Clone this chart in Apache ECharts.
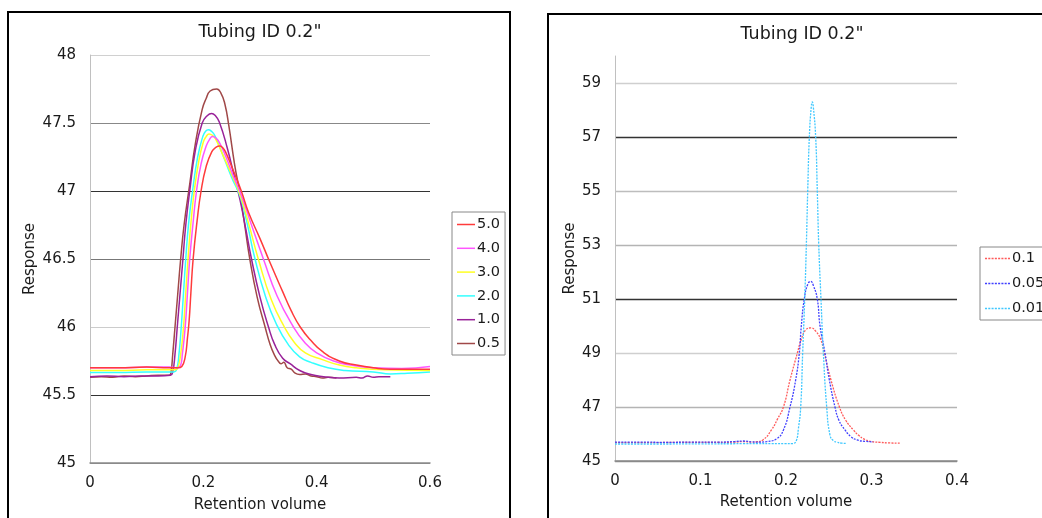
<!DOCTYPE html>
<html>
<head>
<meta charset="utf-8">
<script src="https://cdn.jsdelivr.net/npm/echarts@6/dist/echarts.min.js"></script>
<style>
html,body{margin:0;padding:0;background:#fff;}
#c{width:1042px;height:518px;}
</style>
</head>
<body>
<div id="c"></div>
<script>
// ---------- DATA ----------
const chartTitle = 'Tubing ID 0.2"';
const xName = 'Retention volume';
const yName = 'Response';

// Left chart series names (legend order)
const leftNames = ['5.0', '4.0', '3.0', '2.0', '1.0', '0.5'];
// [retention volume, response]
const left50 = [[0,45.70],[0.05,45.70],[0.10,45.705],[0.14,45.70],[0.155,45.70],[0.162,45.71],[0.168,45.78],[0.172,45.92],[0.175,46.05],[0.178,46.25],[0.182,46.5],[0.189,46.78],[0.196,47.0],[0.205,47.18],[0.215,47.29],[0.222,47.32],[0.229,47.33],[0.235,47.315],[0.24,47.28],[0.252,47.16],[0.267,47.0],[0.28,46.84],[0.30,46.65],[0.318,46.47],[0.34,46.26],[0.355,46.12],[0.371,46.0],[0.39,45.90],[0.41,45.82],[0.44,45.75],[0.47,45.72],[0.50,45.70],[0.53,45.69],[0.56,45.69],[0.60,45.69]];
const left40 = [[0,45.70],[0.05,45.70],[0.10,45.705],[0.14,45.705],[0.155,45.70],[0.160,45.72],[0.163,45.80],[0.168,46.0],[0.172,46.25],[0.176,46.5],[0.182,46.77],[0.188,47.0],[0.196,47.2],[0.205,47.33],[0.211,47.38],[0.2165,47.40],[0.222,47.39],[0.228,47.36],[0.24,47.25],[0.252,47.12],[0.266,46.98],[0.285,46.75],[0.306,46.5],[0.33,46.23],[0.359,46.0],[0.38,45.88],[0.40,45.81],[0.43,45.75],[0.46,45.72],[0.50,45.70],[0.55,45.695],[0.60,45.71]];
const left30 = [[0,45.68],[0.05,45.68],[0.10,45.685],[0.15,45.685],[0.155,45.70],[0.160,45.80],[0.165,46.0],[0.169,46.25],[0.173,46.5],[0.178,46.76],[0.184,47.0],[0.192,47.22],[0.200,47.36],[0.205,47.40],[0.210,47.42],[0.216,47.41],[0.222,47.38],[0.235,47.26],[0.25,47.12],[0.265,46.97],[0.28,46.76],[0.297,46.5],[0.32,46.2],[0.343,46.0],[0.36,45.89],[0.38,45.81],[0.41,45.76],[0.44,45.72],[0.47,45.70],[0.52,45.685],[0.60,45.68]];
const left20 = [[0,45.665],[0.05,45.665],[0.10,45.67],[0.148,45.67],[0.153,45.69],[0.157,45.80],[0.161,46.0],[0.165,46.25],[0.169,46.5],[0.174,46.76],[0.181,47.0],[0.19,47.25],[0.199,47.40],[0.204,47.44],[0.209,47.45],[0.214,47.44],[0.22,47.41],[0.233,47.28],[0.25,47.1],[0.265,46.96],[0.278,46.75],[0.29,46.52],[0.31,46.22],[0.329,46.02],[0.35,45.87],[0.37,45.78],[0.39,45.74],[0.42,45.70],[0.45,45.68],[0.50,45.67],[0.53,45.655],[0.56,45.66],[0.60,45.67]];
const left10 = [[0,45.635],[0.03,45.64],[0.06,45.635],[0.09,45.64],[0.12,45.64],[0.142,45.645],[0.146,45.67],[0.150,45.80],[0.154,46.0],[0.159,46.25],[0.164,46.5],[0.169,46.75],[0.176,47.0],[0.186,47.3],[0.198,47.5],[0.206,47.55],[0.2147,47.57],[0.221,47.555],[0.228,47.51],[0.242,47.32],[0.255,47.1],[0.265,46.93],[0.275,46.72],[0.285,46.5],[0.30,46.22],[0.315,46.0],[0.326,45.87],[0.34,45.77],[0.353,45.73],[0.37,45.68],[0.39,45.65],[0.412,45.635],[0.44,45.625],[0.47,45.63],[0.48,45.625],[0.49,45.64],[0.50,45.63],[0.51,45.635],[0.53,45.635]];
const left05 = [[0,45.63],[0.02,45.635],[0.04,45.63],[0.06,45.64],[0.08,45.635],[0.10,45.64],[0.12,45.645],[0.14,45.645],[0.143,45.67],[0.146,45.80],[0.150,46.0],[0.155,46.25],[0.160,46.5],[0.166,46.75],[0.176,47.05],[0.186,47.35],[0.198,47.6],[0.205,47.68],[0.212,47.735],[0.2235,47.75],[0.231,47.72],[0.238,47.64],[0.245,47.48],[0.255,47.2],[0.265,46.97],[0.273,46.75],[0.282,46.5],[0.295,46.22],[0.309,46.0],[0.318,45.87],[0.326,45.79],[0.332,45.75],[0.337,45.73],[0.342,45.74],[0.348,45.70],[0.355,45.69],[0.362,45.66],[0.37,45.65],[0.38,45.655],[0.39,45.64],[0.40,45.635],[0.41,45.625],[0.42,45.63],[0.435,45.625]];

// Right chart series
const rightNames = ['0.1', '0.05', '0.01'];
const right01 = [[0,45.68],[0.03,45.68],[0.06,45.685],[0.09,45.69],[0.12,45.69],[0.14,45.70],[0.15,45.72],[0.16,45.70],[0.165,45.71],[0.173,45.78],[0.183,46.15],[0.19,46.55],[0.197,47.0],[0.2047,48.0],[0.2133,49.0],[0.2178,49.5],[0.223,49.85],[0.2292,49.93],[0.235,49.8],[0.2406,49.5],[0.2448,49.0],[0.2526,48.0],[0.2625,47.0],[0.27,46.5],[0.2788,46.15],[0.285,45.95],[0.292,45.8],[0.30,45.72],[0.31,45.69],[0.32,45.67],[0.333,45.66]];
const right005 = [[0,45.70],[0.03,45.70],[0.06,45.69],[0.09,45.70],[0.12,45.70],[0.14,45.72],[0.15,45.74],[0.16,45.71],[0.17,45.70],[0.1774,45.72],[0.189,45.82],[0.197,46.15],[0.2047,47.0],[0.2113,48.0],[0.2156,49.0],[0.2179,50.0],[0.2214,51.0],[0.2255,51.55],[0.2289,51.65],[0.232,51.5],[0.2366,51.0],[0.2398,50.0],[0.2456,49.0],[0.2507,48.0],[0.2573,47.0],[0.262,46.5],[0.269,46.15],[0.276,45.9],[0.283,45.78],[0.292,45.73],[0.302,45.71]];
const right001 = [[0,45.63],[0.05,45.63],[0.10,45.635],[0.15,45.64],[0.20,45.64],[0.208,45.645],[0.212,45.75],[0.2145,46.2],[0.2172,47.0],[0.2195,49.0],[0.2219,51.0],[0.2238,53.0],[0.2254,55.0],[0.2273,57.0],[0.2295,58.1],[0.2308,58.3],[0.232,58.1],[0.2347,57.0],[0.2366,55.0],[0.2383,53.0],[0.2409,51.0],[0.2437,49.0],[0.2476,47.0],[0.2515,45.95],[0.2555,45.75],[0.2593,45.70],[0.265,45.66],[0.271,45.65]];

// Axis ranges / ticks
const leftX = {min: 0, max: 0.6, interval: 0.2};
const leftY = {min: 45, max: 48, interval: 0.5};
const rightX = {min: 0, max: 0.4, interval: 0.1};
const rightY = {min: 45, max: 60, interval: 1};

// ---------- CHART ----------
const FONT = '"DejaVu Sans", Verdana, sans-serif';
const TXT = '#1a1a1a';
const leftColors = ['#ff3b3b', '#ff55ff', '#ffff22', '#33ffff', '#992299', '#a04848'];
const rightColors = ['#ff5a5a', '#4040ff', '#40c8ff'];

const leftData = [left50, left40, left30, left20, left10, left05];
const rightData = [right01, right005, right001];

// legend icons: solid line / dotted line drawn as thin path shapes
const solidIcon = 'path://M0,0h18v1.5h-18z';
function dottedIcon(w) {
  let p = 'path://';
  for (let x = 0; x + 2 <= w; x += 3.2) p += 'M' + x.toFixed(1) + ',0h2v1.3h-2z';
  return p;
}
const dotIcon = dottedIcon(25);

const chart = echarts.init(document.getElementById('c'), null, {renderer: 'canvas'});

function axisText(extra) {
  return Object.assign({color: TXT, fontFamily: FONT, fontSize: 15}, extra || {});
}

const option = {
  animation: false,
  backgroundColor: '#fff',
  textStyle: {fontFamily: FONT},
  graphic: [
    {type: 'rect', z: -10, shape: {x: 8, y: 12, width: 502, height: 520}, style: {fill: '#fff', stroke: '#000', lineWidth: 2}},
    {type: 'rect', z: -10, shape: {x: 548, y: 14, width: 520, height: 520}, style: {fill: '#fff', stroke: '#000', lineWidth: 2}}
  ],
  title: [
    {text: chartTitle, left: 260, top: 23, textAlign: 'center', padding: 0,
     textStyle: {fontFamily: FONT, fontSize: 17.5, fontWeight: 'normal', color: TXT}},
    {text: chartTitle, left: 802, top: 25, textAlign: 'center', padding: 0,
     textStyle: {fontFamily: FONT, fontSize: 17.5, fontWeight: 'normal', color: TXT}}
  ],
  legend: [
    {data: leftNames.map(function (n) { return {name: n, icon: solidIcon}; }),
     orient: 'vertical', left: 452, top: 212, padding: [5, 5, 4, 5],
     itemWidth: 18, itemHeight: 14, itemGap: 8.8, borderColor: '#888', borderWidth: 1,
     backgroundColor: '#fff',
     textStyle: {fontFamily: FONT, fontSize: 14.5, color: TXT, padding: [0, 0, 0, -3]}},
    {data: rightNames.map(function (n) { return {name: n, icon: dotIcon}; }),
     orient: 'vertical', left: 980, top: 247, padding: [4, 10, 4, 5],
     itemWidth: 25, itemHeight: 14, itemGap: 10, borderColor: '#888', borderWidth: 1,
     backgroundColor: '#fff',
     textStyle: {fontFamily: FONT, fontSize: 14.5, color: TXT, padding: [0, 0, 0, -3]}}
  ],
  grid: [
    {left: 90, top: 55, width: 340, height: 408, containLabel: false},
    {left: 615, top: 56, width: 342, height: 405, containLabel: false}
  ],
  xAxis: [
    {type: 'value', gridIndex: 0, min: leftX.min, max: leftX.max, interval: leftX.interval,
     name: xName, nameLocation: 'middle', nameGap: 35, nameTextStyle: axisText({fontSize: 15}),
     axisLine: {lineStyle: {color: '#8a8a8a', width: 1.5}}, axisTick: {show: false},
     axisLabel: axisText({margin: 13}), splitLine: {show: false}},
    {type: 'value', gridIndex: 1, min: rightX.min, max: rightX.max, interval: rightX.interval,
     name: xName, nameLocation: 'middle', nameGap: 34, nameTextStyle: axisText({fontSize: 15}),
     axisLine: {lineStyle: {color: '#8a8a8a', width: 1.5}}, axisTick: {show: false},
     axisLabel: axisText({margin: 13}), splitLine: {show: false}}
  ],
  yAxis: [
    {type: 'value', gridIndex: 0, min: leftY.min, max: leftY.max, interval: leftY.interval,
     name: yName, nameLocation: 'middle', nameGap: 52, nameTextStyle: axisText({fontSize: 15}),
     axisLine: {show: true, lineStyle: {color: '#c0c0c0', width: 1}}, axisTick: {show: false},
     axisLabel: axisText({margin: 14}),
     splitLine: {show: true, lineStyle: {width: 1.2,
       color: ['#8a8a8a', '#333333', '#cccccc', '#777777', '#333333', '#888888', '#d0d0d0']}}},
    {type: 'value', gridIndex: 1, min: rightY.min, max: rightY.max, interval: rightY.interval,
     name: yName, nameLocation: 'middle', nameGap: 36, nameTextStyle: axisText({fontSize: 15}),
     axisLine: {show: true, lineStyle: {color: '#c0c0c0', width: 1}}, axisTick: {show: false},
     axisLabel: axisText({margin: 14, formatter: function (v) { return (Math.round(v) % 2 === 1) ? String(Math.round(v)) : ''; }}),
     splitLine: {show: true, lineStyle: {width: 1.3,
       color: ['#8a8a8a', 'rgba(0,0,0,0)', '#b4b4b4', 'rgba(0,0,0,0)', '#cfcfcf', 'rgba(0,0,0,0)', '#333333', 'rgba(0,0,0,0)',
               '#b4b4b4', 'rgba(0,0,0,0)', '#bdbdbd', 'rgba(0,0,0,0)', '#333333', 'rgba(0,0,0,0)', '#cfcfcf', 'rgba(0,0,0,0)']}}}
  ],
  series: []
};

leftNames.forEach(function (n, i) {
  option.series.push({
    name: n, type: 'line', xAxisIndex: 0, yAxisIndex: 0, data: leftData[i],
    symbol: 'none', smooth: 0.5, color: leftColors[i],
    lineStyle: {width: 1.5, color: leftColors[i]}, z: 10 - i
  });
});
rightNames.forEach(function (n, i) {
  option.series.push({
    name: n, type: 'line', xAxisIndex: 1, yAxisIndex: 1, data: rightData[i],
    symbol: 'none', smooth: 0.5, color: rightColors[i],
    lineStyle: {width: 1.3, type: [2, 1.2], color: rightColors[i]}, z: 10
  });
});

chart.setOption(option);
</script>
</body>
</html>
